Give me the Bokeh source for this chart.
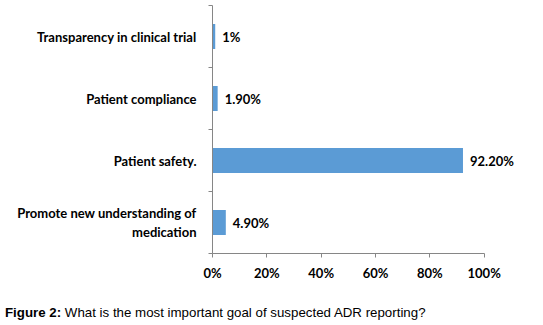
from bokeh.plotting import figure
from bokeh.models import FixedTicker, PrintfTickFormatter, ColumnDataSource, Div
from bokeh.layouts import column
from bokeh.core.properties import value
from bokeh.embed import file_html
from bokeh.resources import INLINE

categories = ["Promote new understanding of\nmedication", "Patient safety.", "Patient compliance", "Transparency in clinical trial"]
values = [4.9, 92.2, 1.9, 1.0]
value_labels = ["4.90%", "92.20%", "1.90%", "1%"]
x_ticks = [0, 20, 40, 60, 80, 100]
caption_bold = "Figure 2:"
caption_text = "What is the most important goal of suspected ADR reporting?"

ypos = [i + 0.5 for i in range(len(categories))]
src = ColumnDataSource(dict(y=ypos, v=values, lab=value_labels))

p = figure(width=543, height=300, output_backend="svg", toolbar_location=None,
           x_range=(0, 120), y_range=(0, len(categories)),
           min_border_left=212, min_border_right=5, min_border_top=5, min_border_bottom=47)
p.outline_line_color = None
p.grid.grid_line_color = None
p.background_fill_color = "white"

p.hbar(y="y", right="v", left=0, height=0.4, source=src, fill_color="#5B9BD5", line_color=None)
p.text(x="v", y="y", text="lab", source=src, x_offset=7, text_baseline="middle",
       text_font=value("Lato"), text_font_style="bold", text_font_size="13px", text_color="#000000")

ax = p.xaxis[0]
ax.ticker = FixedTicker(ticks=x_ticks)
ax.bounds = (0, 100)
ax.formatter = PrintfTickFormatter(format="%d%%")
ax.axis_line_color = "#868686"
ax.major_tick_line_color = "#868686"
ax.major_tick_in = 0
ax.major_tick_out = 4
ax.minor_tick_line_color = None
ax.major_label_text_font = "Lato"
ax.major_label_text_font_style = "bold"
ax.major_label_text_font_size = "13px"
ax.major_label_text_color = "#000000"
ax.major_label_standoff = 7

ay = p.yaxis[0]
ay.ticker = FixedTicker(ticks=ypos, minor_ticks=list(range(len(categories) + 1)))
ay.major_label_overrides = {y: c for y, c in zip(ypos, categories)}
ay.axis_line_color = "#868686"
ay.major_tick_line_color = None
ay.major_tick_in = 0
ay.major_tick_out = 0
ay.minor_tick_line_color = "#868686"
ay.minor_tick_in = 0
ay.minor_tick_out = 4
ay.major_label_text_font = "Lato"
ay.major_label_text_font_style = "bold"
ay.major_label_text_font_size = "13px"
ay.major_label_text_color = "#000000"
ay.major_label_standoff = 12

cap = Div(text=f"<b>{caption_bold}</b> {caption_text}", width=538, height=20, margin=(5, 0, 0, 5),
          styles={"font-family": "'Liberation Sans', Arial, sans-serif", "font-size": "13.3px",
                  "color": "#000000", "line-height": "15px"})

layout = column(p, cap, spacing=0)
open("out.html", "w").write(file_html(layout, INLINE))
